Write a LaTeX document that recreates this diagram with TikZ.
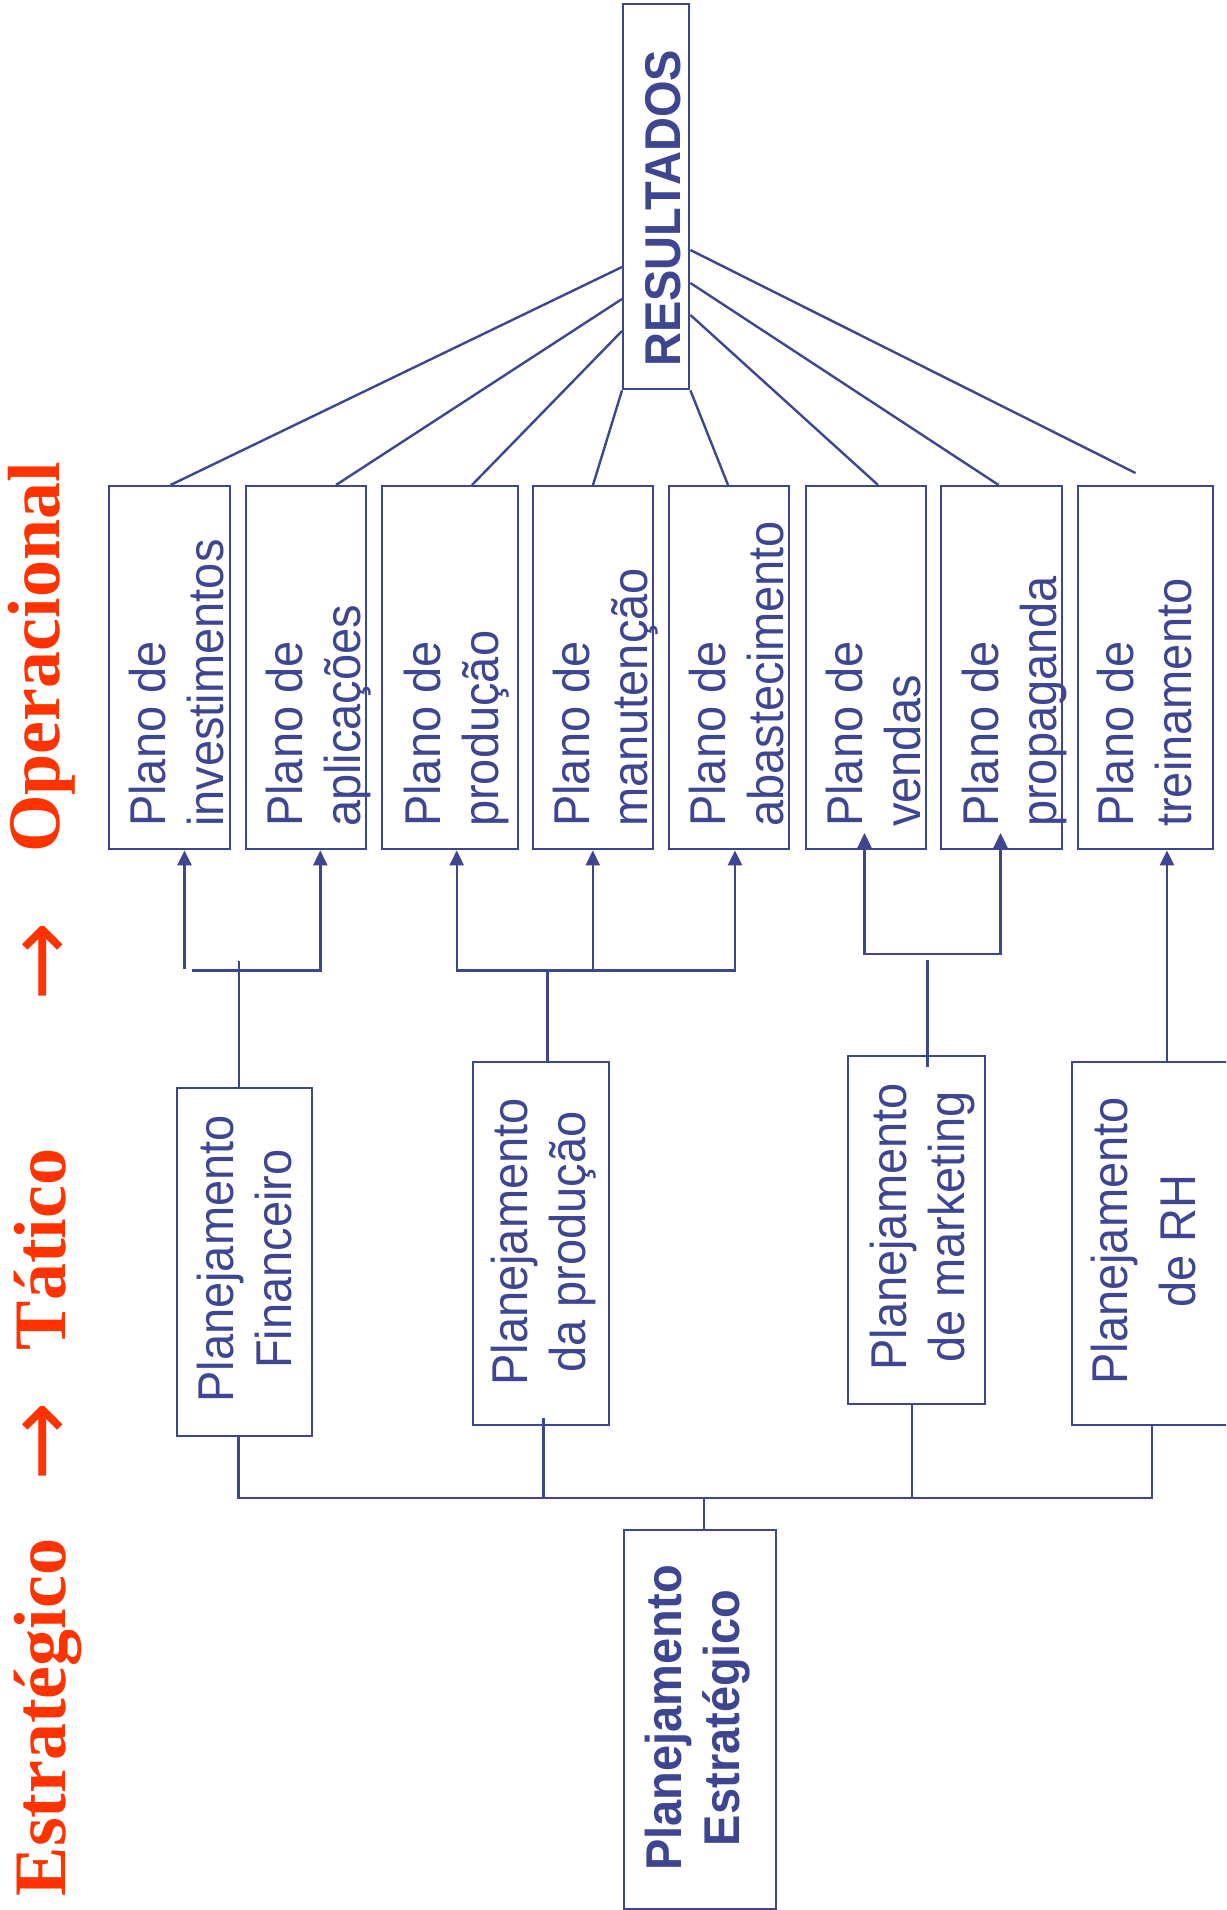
\documentclass[tikz,border=0pt]{standalone}
\usepackage{fontspec}
\setmainfont{Liberation Sans}
\newfontfamily\labserif{Liberation Serif}
\newfontfamily\arrowfont{DejaVu Sans}
\usetikzlibrary{arrows.meta}
\definecolor{navy}{RGB}{62,70,145}
\definecolor{redlab}{RGB}{255,51,0}
\tikzset{
  box/.style={draw=navy, line width=2.4pt, rectangle, inner sep=0pt, anchor=north west},
  conn/.style={draw=navy, line width=2.4pt},
  arr/.style={conn, -{Triangle[length=15pt,width=14pt]}},
  arrtwo/.style={conn, {Triangle[length=15pt,width=14pt]}-{Triangle[length=15pt,width=14pt]}},
  btext/.style={text=navy, rotate=90, yscale=1.07, inner sep=0pt, font=\fontsize{47}{54}\selectfont},
  optext/.style={btext, align=left, anchor=base west},
  tactext/.style={btext, align=center, anchor=base},
  lab/.style={text=redlab, rotate=90, inner sep=0pt, anchor=base, font=\labserif\bfseries\fontsize{74}{80}\selectfont},
  arrowlab/.style={text=redlab, rotate=90, inner sep=0pt, anchor=center, font=\arrowfont\fontsize{95}{100}\selectfont}
}
\begin{document}
\begin{tikzpicture}[x=1pt,y=-1pt]
\useasboundingbox (0,0) rectangle (1226,1910);
\clip (0,0) rectangle (1226,1910);

% side labels
\node[lab] (lE) at (65,1717.5) {Estratégico};
\node[arrowlab] (la1) at (47,1442) {→};
\node[lab] (lT) at (65,1249.5) {Tático};
\node[arrowlab] (la2) at (47,961.5) {→};
\node[lab] (lO) at (59,657.5) {Operacional};

% RESULTADOS
\node[box, minimum width=66pt, minimum height=385pt] (res) at (622,3) {};
\node[btext, anchor=base west, font=\bfseries\fontsize{47}{54}\selectfont] (rest) at (680,367) {RESULTADOS};

% operational boxes
\node[box, minimum width=121pt, minimum height=363pt] (op1) at (108,485) {};
\node[box, minimum width=120pt, minimum height=363pt] (op2) at (245,485) {};
\node[box, minimum width=136pt, minimum height=363pt] (op3) at (381,485) {};
\node[box, minimum width=120pt, minimum height=363pt] (op4) at (532,485) {};
\node[box, minimum width=120pt, minimum height=363pt] (op5) at (668,485) {};
\node[box, minimum width=120pt, minimum height=363pt] (op6) at (805,485) {};
\node[box, minimum width=121pt, minimum height=363pt] (op7) at (940,485) {};
\node[box, minimum width=135pt, minimum height=363pt] (op8) at (1077,485) {};

\node[optext] (op1t) at (223.5,827) {Plano de\\investimentos};
\node[optext] (op2t) at (360.5,827) {Plano de\\aplicações};
\node[optext] (op3t) at (498,827) {Plano de\\produção};
\node[optext] (op4t) at (647.5,827) {Plano de\\manutenção};
\node[optext] (op5t) at (783.5,827) {Plano de\\abastecimento};
\node[optext] (op6t) at (920.5,827) {Plano de\\vendas};
\node[optext] (op7t) at (1056.5,827) {Plano de\\propaganda};
\node[optext] (op8t) at (1191,827) {Plano de\\treinamento};

% tactical boxes
\node[box, minimum width=135pt, minimum height=348pt] (tac1) at (176,1087) {};
\node[box, minimum width=136pt, minimum height=363pt] (tac2) at (471.5,1060.5) {};
\node[box, minimum width=137pt, minimum height=348pt] (tac3) at (847,1055) {};
\node[box, minimum width=175pt, minimum height=363pt] (tac4) at (1071,1060.5) {};

\node[tactext] (tac1t) at (291,1259) {Planejamento\\Financeiro};
\node[tactext] (tac2t) at (585,1242) {Planejamento\\da produção};
\node[tactext] (tac3t) at (964,1227) {Planejamento\\de marketing};
\node[tactext, font=\fontsize{47}{63.5}\selectfont] (tac4t) at (1195,1241) {Planejamento\\de RH};

% strategic box
\node[box, minimum width=152pt, minimum height=379pt] (strat) at (623,1529) {};
\node[tactext, font=\bfseries\fontsize{47}{54}\selectfont] (stratt) at (739,1718) {Planejamento\\Estratégico};

% RESULTADOS fan
\draw[conn] (res.west |- 0,267) -- (op1.north -| 170.5,0);
\draw[conn] (res.west |- 0,299) -- (op2.north -| 336,0);
\draw[conn] (res.west |- 0,331) -- (op3.north -| 472,0);
\draw[conn] (res.south west) -- (op4.north -| 593,0);
\draw[conn] (res.south east) -- (op5.north -| 728,0);
\draw[conn] (res.east |- 0,315) -- (op6.north -| 878,0);
\draw[conn] (res.east |- 0,283) -- (op7.north -| 998.6,0);
\coordinate (r8) at (1135.5,473);
\draw[conn] (res.east |- 0,250) -- (r8);

% financial group
\coordinate (fa) at (184.5,969);
\coordinate (fh1) at (191.6,970.5);
\coordinate (fh2) at (320.3,970.5);
\coordinate (fv) at (239,961);
\draw[arr] (fa) -- (fa |- op1.south);
\draw[arr] (fh1) -- (fh2) -- (fh2 |- op2.south);
\draw[conn] (fv) -- (fv |- tac1.north);

% production group
\coordinate (p1) at (456.7,970.5);
\coordinate (p2) at (592.8,970.5);
\coordinate (p3) at (735,970.5);
\coordinate (pv) at (547.5,970.5);
\draw[arrtwo] (p1 |- op3.south) -- (p1) -- (p3) -- (p3 |- op5.south);
\draw[arr] (p2) -- (p2 |- op4.south);
\draw[conn] (pv) -- (pv |- tac2.north);

% marketing group
\coordinate (m1) at (864.5,954);
\coordinate (m2) at (1000.5,954);
\coordinate (mt1) at (864.5,833);
\coordinate (mt2) at (1000.5,833);
\coordinate (mv1) at (927.3,960);
\coordinate (mv2) at (927.3,1066.7);
\draw[arrtwo] (mt1) -- (m1) -- (m2) -- (mt2);
\draw[conn] (mv1) -- (mv2);

% HR
\coordinate (hv) at (1167,0);
\draw[arr] (hv |- tac4.north) -- (hv |- op8.south);

% tactical to strategic
\coordinate (b1) at (238.5,1498);
\coordinate (b2) at (543.5,1498);
\coordinate (b3) at (912,1498);
\coordinate (b4) at (1152,1498);
\coordinate (bs) at (704,1498);
\draw[conn] (tac1.south -| b1) -- (b1) -- (b4) -- (tac4.south -| b4);
\draw[conn] (543.5,1418) -- (b2);
\draw[conn] (tac3.south -| b3) -- (b3);
\draw[conn] (bs) -- (bs |- strat.north);
\end{tikzpicture}
\end{document}
